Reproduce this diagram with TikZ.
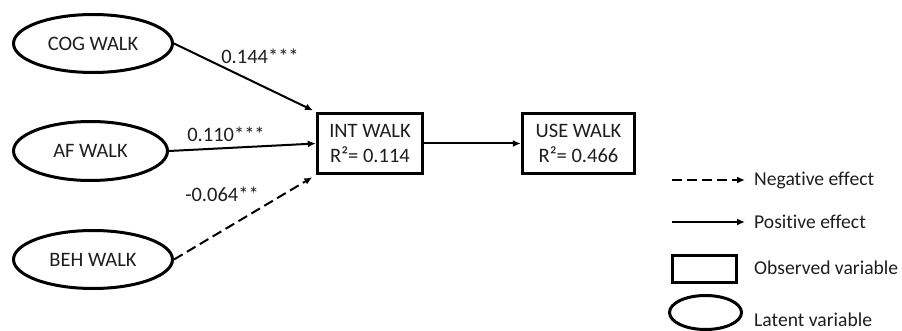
\documentclass[tikz,border=0pt]{standalone}
\usepackage{fontspec}
\setmainfont{Carlito}[Ligatures=NoCommon]
\usetikzlibrary{shapes.geometric,arrows.meta}
\definecolor{txt}{HTML}{1E1E1E}
\tikzset{
  latent/.style={draw, ellipse, line width=3pt, inner sep=0pt, minimum width=#1, minimum height=58pt, font=\fontsize{20.5}{24}\selectfont, text=txt},
  observed/.style={draw, rectangle, line width=3.4pt, inner sep=0pt, align=center, font=\fontsize{20.5}{25}\selectfont, text=txt},
  lbl/.style={font=\fontsize{20.5}{24}\selectfont, text=txt, inner sep=0pt},
  legtxt/.style={font=\fontsize{19.6}{24}\selectfont, text=txt, inner sep=0pt, anchor=west},
  arr/.style={line width=2pt, -{Latex[length=8pt,width=7pt]}},
  negarr/.style={arr, dash pattern=on 10pt off 5pt},
}
\begin{document}
\begin{tikzpicture}[x=1pt,y=-1pt]
\useasboundingbox (0,0) rectangle (902,331);
% latent variables
\node[latent=159pt] (cog) at (93,43.5) {COG WALK};
\node[latent=154pt, minimum height=59pt] (af) at (90.5,151) {AF WALK};
\node[latent=159pt] (beh) at (93,259.5) {BEH WALK};
% observed variables
\node[observed, minimum width=105pt, minimum height=60pt] (int) at (370,143.5) {INT WALK\\R²= 0.114};
\node[observed, minimum width=112pt, minimum height=60pt] (use) at (578.5,143.5) {USE WALK\\R²= 0.466};
% paths
\draw[arr, shorten >=3pt] (cog.east) -- (int.north west);
\draw[arr] (af.east) -- (int.west);
\draw[negarr, shorten >=4pt] (beh.east) -- (int.south west);
\draw[arr] (int.east) -- (use.west);
% coefficients
\node[lbl] (l1) at (260,56) {0.144***};
\node[lbl] (l2) at (226,134) {0.110***};
\node[lbl] (l3) at (222,194) {-0.064**};
% legend
\coordinate (n1) at (672,180);
\coordinate (n2) at (745,180);
\draw[negarr] (n1) -- (n2);
\node[legtxt] (nt) at (754,180) {Negative effect};
\coordinate (p1) at (672,222);
\coordinate (p2) at (745,222);
\draw[arr] (p1) -- (p2);
\node[legtxt] (pt) at (754,222) {Positive effect};
\node[draw, rectangle, line width=3.4pt, minimum width=64pt, minimum height=27pt, inner sep=0pt] (obs) at (704.5,269) {};
\node[legtxt] (ot) at (754,268) {Observed variable};
\node[draw, ellipse, line width=3pt, minimum width=72pt, minimum height=34pt, inner sep=0pt] (lat) at (705.5,312.5) {};
\node[legtxt] (lt) at (754,320) {Latent variable};
\end{tikzpicture}
\end{document}
